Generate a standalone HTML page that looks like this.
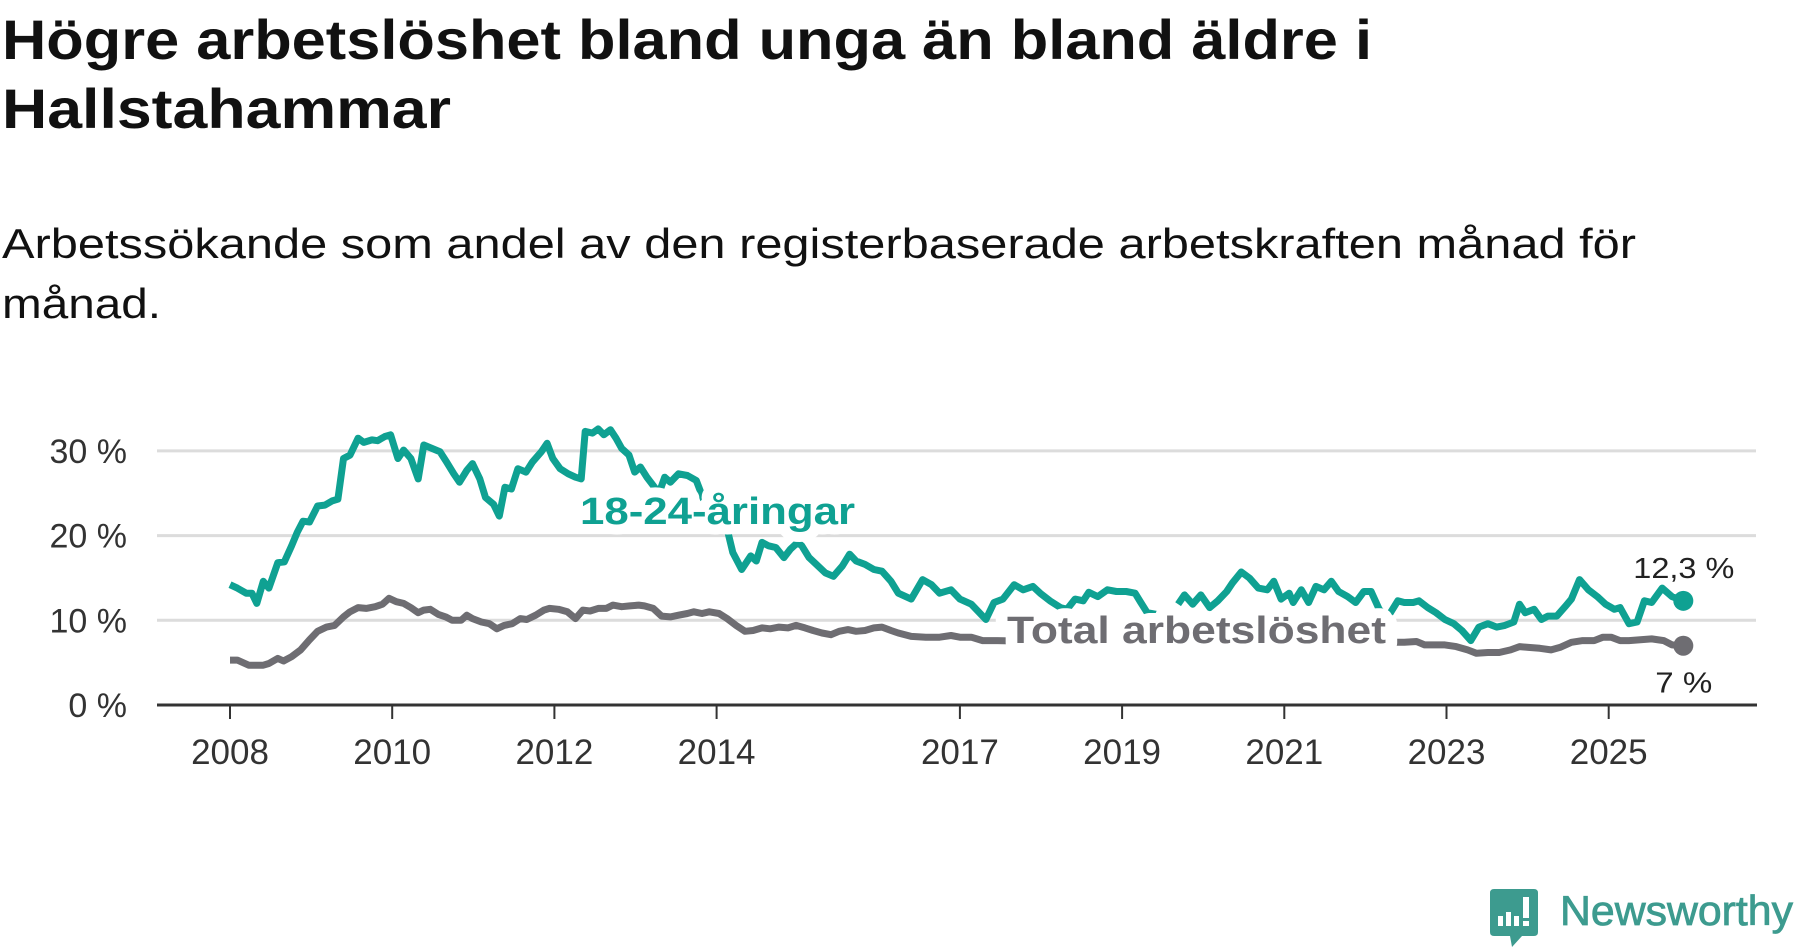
<!DOCTYPE html>
<html><head><meta charset="utf-8"><style>
html,body{margin:0;padding:0;background:#fff;}
svg{display:block;font-family:"Liberation Sans",sans-serif;}
</style></head><body>
<svg id="chart" width="1800" height="948" viewBox="0 0 1800 948" xmlns="http://www.w3.org/2000/svg">
<text x="2" y="59" font-size="56" font-weight="bold" fill="#111" textLength="1370" lengthAdjust="spacingAndGlyphs">Högre arbetslöshet bland unga än bland äldre i</text>
<text x="2" y="128" font-size="56" font-weight="bold" fill="#111" textLength="449" lengthAdjust="spacingAndGlyphs">Hallstahammar</text>
<text x="2" y="258" font-size="42" fill="#111" textLength="1634" lengthAdjust="spacingAndGlyphs">Arbetssökande som andel av den registerbaserade arbetskraften månad för</text>
<text x="2" y="318" font-size="42" fill="#111" textLength="159" lengthAdjust="spacingAndGlyphs">månad.</text>
<g id="grid"></g><g id="axes"></g><g id="series"></g><g id="labels"></g>
<g>
<path d="M1494 889 H1534 Q1538 889 1538 893 V932 Q1538 936 1534 936 H1522 L1512 947 L1510 936 H1494 Q1490 936 1490 932 V893 Q1490 889 1494 889 Z" fill="#3d9b8f"/>
<rect x="1498" y="916" width="5" height="10" fill="#fff"/><rect x="1506" y="912" width="5" height="14" fill="#fff"/><rect x="1514" y="916" width="5" height="10" fill="#fff"/><rect x="1523" y="897" width="6" height="21" fill="#fff"/><rect x="1523" y="921" width="6" height="5" fill="#fff"/>
<text x="1560" y="925" font-size="42" fill="#3d9b8f" stroke="#3d9b8f" stroke-width="0.8" textLength="233" lengthAdjust="spacingAndGlyphs">Newsworthy</text>
</g>
</svg>
<script>
const yTicks = [0, 10, 20, 30];
const yTickLabels = ["0 %", "10 %", "20 %", "30 %"];
const xTicks = [2008, 2010, 2012, 2014, 2017, 2019, 2021, 2023, 2025];
const youthYears = [2008.00,2008.09,2008.20,2008.27,2008.33,2008.41,2008.48,2008.59,2008.67,2008.76,2008.83,2008.90,2008.98,2009.08,2009.17,2009.26,2009.33,2009.40,2009.48,2009.58,2009.65,2009.75,2009.82,2009.91,2009.98,2010.07,2010.14,2010.23,2010.32,2010.39,2010.49,2010.59,2010.67,2010.76,2010.83,2010.92,2010.99,2011.08,2011.15,2011.25,2011.32,2011.39,2011.47,2011.55,2011.65,2011.73,2011.84,2011.91,2011.98,2012.07,2012.17,2012.26,2012.33,2012.38,2012.47,2012.54,2012.61,2012.69,2012.76,2012.83,2012.92,2012.99,2013.06,2013.14,2013.22,2013.29,2013.36,2013.43,2013.53,2013.64,2013.75,2013.85,2013.99,2014.13,2014.20,2014.31,2014.42,2014.49,2014.56,2014.64,2014.73,2014.83,2014.91,2015.00,2015.05,2015.14,2015.23,2015.34,2015.44,2015.55,2015.64,2015.72,2015.83,2015.94,2016.04,2016.15,2016.24,2016.40,2016.54,2016.65,2016.75,2016.89,2017.00,2017.14,2017.32,2017.42,2017.53,2017.67,2017.78,2017.90,2017.99,2018.11,2018.24,2018.32,2018.42,2018.52,2018.59,2018.70,2018.82,2018.93,2019.05,2019.16,2019.23,2019.31,2019.43,2019.56,2019.69,2019.77,2019.87,2019.97,2020.08,2020.18,2020.29,2020.36,2020.47,2020.57,2020.68,2020.79,2020.87,2020.96,2021.06,2021.11,2021.21,2021.30,2021.39,2021.49,2021.58,2021.67,2021.78,2021.88,2021.98,2022.07,2022.17,2022.27,2022.40,2022.48,2022.59,2022.66,2022.77,2022.87,2022.98,2023.09,2023.19,2023.30,2023.40,2023.51,2023.62,2023.72,2023.83,2023.90,2023.97,2024.08,2024.17,2024.25,2024.36,2024.47,2024.54,2024.64,2024.75,2024.86,2024.96,2025.07,2025.14,2025.25,2025.35,2025.44,2025.53,2025.66,2025.78,2025.92];
const youthValues = [14.2,13.8,13.2,13.2,12.0,14.6,13.8,16.8,16.9,18.8,20.4,21.7,21.6,23.5,23.6,24.1,24.3,29.1,29.5,31.5,31.0,31.3,31.2,31.7,31.9,29.1,30.1,29.1,26.7,30.7,30.3,29.9,28.7,27.3,26.3,27.7,28.5,26.7,24.5,23.7,22.3,25.7,25.5,27.9,27.5,28.7,29.9,30.9,29.1,27.9,27.3,26.9,26.7,32.3,32.1,32.6,31.9,32.5,31.5,30.3,29.5,27.5,28.1,26.9,25.9,25.0,26.9,26.3,27.3,27.1,26.5,24.0,22.0,20.8,18.0,16.0,17.6,17.0,19.2,18.8,18.6,17.4,18.4,19.2,18.8,17.4,16.6,15.6,15.2,16.4,17.8,17.0,16.6,16.0,15.8,14.6,13.2,12.5,14.8,14.2,13.2,13.6,12.5,11.9,10.1,12.1,12.5,14.2,13.6,14.0,13.2,12.3,11.5,11.3,12.5,12.3,13.3,12.8,13.6,13.4,13.4,13.2,12.1,10.9,10.7,null,11.9,13.0,11.9,13.0,11.5,12.3,13.4,14.4,15.7,15.0,13.8,13.6,14.6,12.5,13.2,12.1,13.6,12.1,14.0,13.6,14.6,13.4,12.8,12.1,13.4,13.4,11.3,10.3,12.3,12.1,12.1,12.3,11.5,10.9,10.1,9.6,8.8,7.6,9.2,9.6,9.2,9.4,9.8,11.9,10.9,11.3,10.1,10.5,10.5,11.7,12.5,14.8,13.6,12.8,11.9,11.3,11.5,9.6,9.8,12.3,12.1,13.8,12.8,12.3];
const totalYears = [2008.00,2008.09,2008.23,2008.41,2008.48,2008.59,2008.66,2008.76,2008.87,2008.98,2009.08,2009.19,2009.29,2009.40,2009.48,2009.58,2009.68,2009.79,2009.88,2009.96,2010.05,2010.14,2010.23,2010.32,2010.39,2010.47,2010.57,2010.66,2010.74,2010.85,2010.92,2010.99,2011.10,2011.20,2011.29,2011.38,2011.48,2011.58,2011.66,2011.77,2011.87,2011.94,2012.05,2012.16,2012.26,2012.35,2012.44,2012.54,2012.64,2012.72,2012.83,2012.93,2013.04,2013.11,2013.22,2013.32,2013.43,2013.53,2013.64,2013.72,2013.82,2013.91,2014.03,2014.13,2014.24,2014.35,2014.45,2014.56,2014.66,2014.77,2014.88,2014.98,2015.09,2015.19,2015.30,2015.41,2015.51,2015.62,2015.72,2015.83,2015.94,2016.04,2016.15,2016.24,2016.40,2016.58,2016.75,2016.89,2017.00,2017.14,2017.28,2017.46,2018.00,2018.50,2019.00,2019.50,2020.00,2020.50,2021.00,2021.50,2022.00,2022.34,2022.48,2022.63,2022.73,2022.84,2022.98,2023.12,2023.26,2023.37,2023.51,2023.65,2023.79,2023.90,2024.01,2024.15,2024.29,2024.40,2024.54,2024.68,2024.82,2024.93,2025.03,2025.14,2025.25,2025.39,2025.53,2025.68,2025.78,2025.92];
const totalValues = [5.3,5.3,4.7,4.7,4.9,5.5,5.2,5.7,6.5,7.7,8.7,9.2,9.4,10.4,11.0,11.5,11.4,11.6,11.9,12.6,12.2,12.0,11.5,10.9,11.2,11.3,10.7,10.4,10.0,10.0,10.6,10.2,9.8,9.6,9.0,9.4,9.6,10.2,10.1,10.6,11.2,11.4,11.3,11.0,10.2,11.2,11.1,11.4,11.4,11.8,11.6,11.7,11.8,11.7,11.4,10.5,10.4,10.6,10.8,11.0,10.8,11.0,10.8,10.2,9.4,8.7,8.8,9.1,9.0,9.2,9.1,9.4,9.1,8.8,8.5,8.3,8.7,8.9,8.7,8.8,9.1,9.2,8.8,8.5,8.1,8.0,8.0,8.2,8.0,8.0,7.6,7.6,7.5,7.3,7.3,7.2,7.8,8.0,7.8,7.6,7.4,7.4,7.4,7.5,7.1,7.1,7.1,6.9,6.5,6.1,6.2,6.2,6.5,6.9,6.8,6.7,6.5,6.8,7.4,7.6,7.6,8.0,8.0,7.6,7.6,7.7,7.8,7.6,7.1,7.0];
const youthLastLabel = "12,3 %";
const totalLastLabel = "7 %";

const NS = "http://www.w3.org/2000/svg";
const X0 = 230, PXY = 81.1, Y0 = 705, PXV = 8.47;
function xs(t){ return X0 + (t - 2008) * PXY; }
function ys(v){ return Y0 - v * PXV; }
function mk(tag, attrs, parent){ const e = document.createElementNS(NS, tag); for (const k in attrs) e.setAttribute(k, attrs[k]); parent.appendChild(e); return e; }
const grid = document.getElementById('grid'), axes = document.getElementById('axes'), series = document.getElementById('series'), labels = document.getElementById('labels');

yTicks.forEach((v, i) => {
  if (v !== 0) {
    const g = mk('line', {x1:157, x2:1756, y1:ys(v), y2:ys(v), stroke:'#dcdcdc', 'stroke-width':3}, grid);
    
    
  }
  const t = mk('text', {x:127, y:ys(v)+12, 'text-anchor':'end', 'font-size':34, fill:'#333'}, axes);
  
  
  t.textContent = yTickLabels[i];
});
const ax = mk('line', {x1:157, x2:1757, y1:Y0, y2:Y0, stroke:'#333', 'stroke-width':3}, axes);


xTicks.forEach(yr => {
  const tk = mk('line', {x1:xs(yr), x2:xs(yr), y1:Y0, y2:Y0+14, stroke:'#333', 'stroke-width':2}, axes);
  
  
  const t = mk('text', {x:xs(yr), y:764, 'text-anchor':'middle', 'font-size':35, fill:'#333'}, axes);
  
  
  t.textContent = String(yr);
});

function pathFor(years, vals){
  let d = '', pen = false;
  years.forEach((t, i) => {
    const v = vals[i];
    if (v === null) { pen = false; return; }
    d += (pen ? 'L' : 'M') + xs(t).toFixed(1) + ' ' + ys(v).toFixed(1);
    pen = true;
  });
  return d;
}
const pT = mk('path', {d:pathFor(totalYears, totalValues), fill:'none', stroke:'#6e6d72', 'stroke-width':7, 'stroke-linejoin':'round'}, series);


const pY = mk('path', {d:pathFor(youthYears, youthValues), fill:'none', stroke:'#0fa192', 'stroke-width':7, 'stroke-linejoin':'round'}, series);


const lyT = youthYears[youthYears.length-1], lyV = youthValues[youthValues.length-1];
const ltT = totalYears[totalYears.length-1], ltV = totalValues[totalValues.length-1];
const dY = mk('circle', {cx:xs(lyT), cy:ys(lyV), r:10, fill:'#0fa192'}, series);


const dT = mk('circle', {cx:xs(ltT), cy:ys(ltV), r:10, fill:'#6e6d72'}, series);



function lab(txt, x, y, size, weight, color, len, name, halo){
  const t = mk('text', {x:x, y:y, 'font-size':size, 'font-weight':weight, fill:color, stroke:'#fff', 'stroke-width':halo, 'paint-order':'stroke', 'stroke-linejoin':'round', textLength:len, lengthAdjust:'spacingAndGlyphs'}, labels);
  
  
  t.textContent = txt;
}
lab('18-24-åringar', 580, 524, 38, 'bold', '#0fa192', 275, 'youth-series-label', 20);
lab('Total arbetslöshet', 1007, 643, 38, 'bold', '#6e6d72', 379, 'total-series-label', 20);
lab(youthLastLabel, xs(lyT)-50, ys(lyV)-23, 29, 'normal', '#222', 101, 'youth-last-value', 8);
lab(totalLastLabel, xs(ltT)-28, ys(ltV)+47, 29, 'normal', '#222', 57, 'total-last-value', 8);
</script>
</body></html>
